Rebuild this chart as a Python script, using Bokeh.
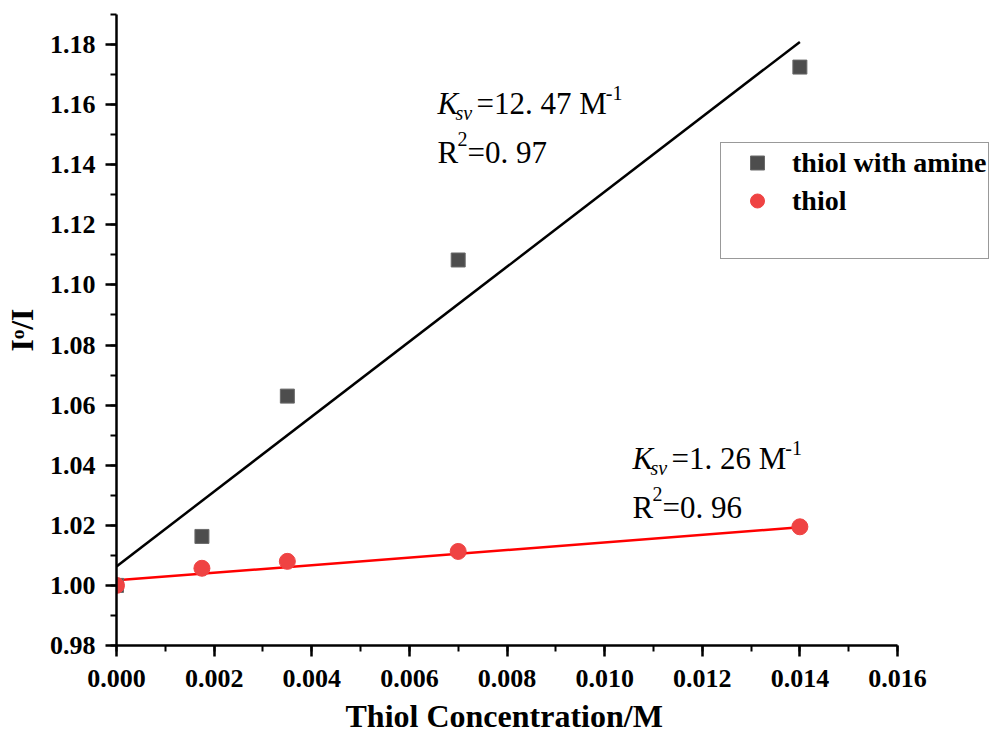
import numpy as np
from bokeh.plotting import figure
from bokeh.models import (Label, Legend, LegendItem, SingleIntervalTicker, Range1d,
                          NumeralTickFormatter, Title)
from bokeh.embed import file_html
from bokeh.resources import INLINE

# ---- data ----
conc = [0.0, 0.00175, 0.0035, 0.007, 0.014]
ratio_amine = [1.000, 1.0163, 1.063, 1.1083, 1.1725]
ratio_thiol = [1.000, 1.0057, 1.008, 1.0113, 1.0195]
fit_amine_slope, fit_amine_intercept = 12.47, 1.0063
fit_thiol_slope, fit_thiol_intercept = 1.26, 1.0017
series_names = ["thiol with amine", "thiol"]
x_label = "Thiol Concentration/M"
y_label = "I\u1d52/I"
x_axis_end = 0.016

SERIF = "Liberation Serif"

W, H = 1000, 740
FL, FT, FB = 116, 14, 95          # frame borders (px)
axis_px = 781                       # pixels spanned by 0 .. x_axis_end
x_view_end = x_axis_end * (W - FL) / axis_px

p = figure(width=W, height=H, output_backend="svg", toolbar_location=None,
           x_range=Range1d(0, x_view_end), y_range=Range1d(0.98, 1.19),
           min_border_left=FL, min_border_right=0, min_border_top=FT,
           min_border_bottom=FB)
p.outline_line_color = None
p.grid.visible = False
p.background_fill_color = "white"
p.border_fill_color = "white"

# fitted lines
fx = np.array([0.0, max(conc)])
p.line(fx, fit_amine_intercept + fit_amine_slope * fx, line_color="black", line_width=2.5)
p.line(fx, fit_thiol_intercept + fit_thiol_slope * fx, line_color="#ff0000", line_width=2.5)

r1 = p.scatter(conc, ratio_amine, marker="square", size=14,
               fill_color="#4d4d4d", line_color="#6a6a6a", line_width=1)
r2 = p.scatter(conc, ratio_thiol, marker="circle", size=16,
               fill_color="#ef4343", line_color="#ef4343", line_width=1)
r3 = p.scatter([], [], marker="circle", size=1, fill_alpha=0, line_alpha=0)

# axes
xa = p.xaxis[0]
ya = p.yaxis[0]
xa.bounds = (0, x_axis_end)
xa.ticker = SingleIntervalTicker(interval=0.002, num_minor_ticks=2)
ya.ticker = SingleIntervalTicker(interval=0.02, num_minor_ticks=2)
xa.formatter = NumeralTickFormatter(format="0.000")
ya.formatter = NumeralTickFormatter(format="0.00")
for ax in (xa, ya):
    ax.axis_line_width = 2.5
    ax.axis_line_color = "black"
    ax.major_tick_line_width = 2.5
    ax.minor_tick_line_width = 2
    ax.major_tick_in = 0
    ax.major_tick_out = 11
    ax.minor_tick_in = 0
    ax.minor_tick_out = 6
    ax.major_label_text_font = SERIF
    ax.major_label_text_font_style = "bold"
    ax.major_label_text_font_size = "26px"
    ax.major_label_text_color = "black"
    ax.axis_label_text_font = SERIF
    ax.axis_label_text_font_style = "bold"
    ax.axis_label_text_font_size = "32px"
    ax.axis_label_text_color = "black"
xa.major_label_standoff = 13
ya.major_label_standoff = 10
ya.axis_label = y_label
ya.axis_label_standoff = 7

# x-axis title placed below the axis, aligned to the reference position
xt = Title(text=x_label, align="left", offset=345 - FL, standoff=13,
           text_font=SERIF, text_font_style="bold", text_font_size="32px",
           text_color="black")
p.add_layout(xt, "below")

# legend
legend = Legend(items=[LegendItem(label=series_names[0], renderers=[r1]),
                       LegendItem(label=series_names[1], renderers=[r2]),
                       LegendItem(label=" ", renderers=[r3])],
                location=(720 - FL, H - FB - 259))
legend.label_text_font = SERIF
legend.label_text_font_style = "bold"
legend.label_text_font_size = "28px"
legend.label_text_color = "black"
legend.glyph_width = 68
legend.glyph_height = 35
legend.label_height = 35
legend.spacing = 3
legend.padding = 2
legend.margin = 0
legend.label_standoff = 1
legend.border_line_color = "#333333"
legend.border_line_width = 1.5
legend.background_fill_alpha = 1
p.add_layout(legend, "center")

# approximate Times/Liberation Serif advance widths (em)
ADV = {"=": .564, ".": .25, " ": .25, "M": .889, "-": .333, "R": .667, "K": .667}
def tw(s, size):
    return sum(ADV.get(c, .5) for c in s) * size

BIG, SMALL = 31, 20

def ann(x0, y0, value, r2val):
    def lab(dx, dy, text, size, style="normal"):
        p.add_layout(Label(x=x0 + dx, y=y0 + dy, x_units="screen", y_units="screen",
                           text=text, text_font=SERIF, text_font_size=f"{size}px",
                           text_font_style=style, text_color="black",
                           text_baseline="alphabetic", text_align="left"))
    main = "=" + value + " M"
    lab(0, 0, "K", BIG, "italic")
    lab(18, -9, "sv", SMALL, "italic")
    lab(39, 0, main, BIG)
    lab(39 + tw(main, BIG) - 1, 11, "-1", SMALL)
    lab(0, -49, "R", BIG)
    lab(20, -35, "2", SMALL)
    lab(30, -49, "=" + r2val, BIG)

# anchors: reference baselines (image px) converted to frame-relative screen units
BASE_FIX = 10
ann(437 - FL, H - FB - 113 + BASE_FIX, "12. 47", "0. 97")
ann(632 - FL, H - FB - 468 + BASE_FIX, "1. 26", "0. 96")

open("out.html", "w").write(file_html(p, INLINE))
